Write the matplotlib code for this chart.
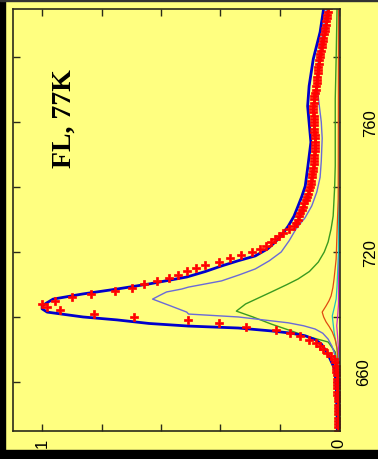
import matplotlib
matplotlib.use('Agg')
import numpy as np
import matplotlib.pyplot as plt
from matplotlib.patches import Rectangle
from matplotlib.transforms import blended_transform_factory

# measured FL spectrum at 77K (red points), 1 nm steps from 665 nm
meas_wl = np.arange(665, 796)
meas_int = [
    0.003, 0.003, 0.003, 0.003, 0.004, 0.004, 0.004, 0.004, 0.005, 0.005,
    0.005, 0.006, 0.006, 0.006, 0.007, 0.007, 0.007, 0.008, 0.009, 0.010,
    0.011, 0.013, 0.018, 0.027, 0.040, 0.055, 0.066, 0.078, 0.100, 0.131,
    0.167, 0.211, 0.312, 0.405, 0.509, 0.690, 0.825, 0.940, 0.985, 1.000,
    0.955, 0.900, 0.835, 0.755, 0.698, 0.658, 0.612, 0.572, 0.542, 0.513,
    0.483, 0.450, 0.405, 0.367, 0.329, 0.293, 0.266, 0.246, 0.230, 0.216,
    0.204, 0.190, 0.170, 0.151, 0.145, 0.140, 0.135, 0.130, 0.125, 0.121,
    0.117, 0.113, 0.109, 0.105, 0.101, 0.097, 0.095, 0.094, 0.092, 0.090,
    0.088, 0.087, 0.086, 0.085, 0.084, 0.083, 0.082, 0.081, 0.081, 0.081,
    0.081, 0.082, 0.083, 0.084, 0.084, 0.085, 0.086, 0.086, 0.087, 0.087,
    0.087, 0.086, 0.085, 0.083, 0.081, 0.079, 0.077, 0.076, 0.075, 0.074,
    0.072, 0.071, 0.070, 0.069, 0.067, 0.065, 0.063, 0.061, 0.059, 0.057,
    0.055, 0.053, 0.051, 0.049, 0.047, 0.045, 0.043, 0.041, 0.040, 0.038,
    0.037,
]

# total fit (thick blue)
fit_wl = [665, 670, 679, 684, 686, 689, 691.7, 693, 694.2, 695, 695.7, 696.6,
          697.2, 698, 699.1, 700, 701.5, 702.5, 703.4, 704.3, 705.5, 707.1,
          708.6, 710.2, 712.3, 714, 715.7, 717.3, 718.8, 721, 723.1, 725, 728,
          731, 734.2, 737, 740.3, 746.5, 753.8, 758.8, 764.9, 771.1, 779.4,
          787.7, 795]
fit_int = [0.006, 0.007, 0.010, 0.015, 0.025, 0.040, 0.060, 0.080, 0.114, 0.160,
           0.228, 0.339, 0.507, 0.640, 0.748, 0.862, 0.983, 1.0, 1.0, 0.985,
           0.963, 0.862, 0.748, 0.638, 0.513, 0.450, 0.396, 0.340, 0.282, 0.240,
           0.215, 0.195, 0.171, 0.152, 0.138, 0.126, 0.114, 0.105, 0.095, 0.100,
           0.106, 0.101, 0.087, 0.064, 0.052]

# components (thin lines)
c1_wl = [665, 684, 688, 691, 693.2, 695, 696.3, 697.3, 698.2, 699.1, 700.0,
         700.9, 701.5, 703.5, 705.5, 706.6, 707.7, 708.6, 709.2, 711.1, 713,
         714.8, 717.3, 720, 723.5, 727.1, 730.5, 734.2, 738.5, 743, 748, 755,
         760, 766, 772, 779.4, 787.7, 795]
c1_int = [0.002, 0.006, 0.013, 0.024, 0.037, 0.055, 0.081, 0.120, 0.171, 0.255,
          0.339, 0.507, 0.513, 0.570, 0.628, 0.605, 0.581, 0.530, 0.507, 0.396,
          0.335, 0.282, 0.235, 0.195, 0.168, 0.145, 0.115, 0.092, 0.075, 0.064,
          0.060, 0.057, 0.060, 0.068, 0.075, 0.070, 0.055, 0.042]

c2_wl = [665, 685, 689.2, 692.3, 694.2, 696, 697.8, 700, 701.8, 704.0, 706,
         707.7, 710, 711.7, 714, 716.9, 720, 723.1, 727.1, 731.1, 740, 746.5,
         767.1, 779.4, 795]
c2_int = [0.002, 0.006, 0.013, 0.037, 0.114, 0.170, 0.228, 0.290, 0.346, 0.315,
          0.268, 0.228, 0.175, 0.138, 0.100, 0.070, 0.050, 0.037, 0.027, 0.020,
          0.015, 0.013, 0.013, 0.010, 0.007]

c3_wl = [665, 685, 690.2, 693, 695.4, 697, 698.5, 700, 701.5, 703.4, 705, 706.5,
         709, 711.7, 717.8, 726.2, 736.3, 795]
c3_int = [0.001, 0.003, 0.007, 0.013, 0.023, 0.033, 0.044, 0.052, 0.057, 0.044,
          0.034, 0.027, 0.021, 0.017, 0.010, 0.007, 0.003, 0.002]

c4_wl = [665, 688, 690.2, 695.4, 700.3, 703, 705.5, 709.5, 720, 795]
c4_int = [0.001, 0.004, 0.007, 0.017, 0.023, 0.016, 0.010, 0.007, 0.002, 0.001]

c5_wl = [665, 690, 694, 697.3, 700, 704, 795]
c5_int = [0.001, 0.002, 0.005, 0.008, 0.005, 0.002, 0.001]

y_ticks = [680, 700, 720, 740, 760, 780]
y_labels = ['', '', '720', '', '760', '']
# the lowest wavelength label sits a little off its tick in the original
low_label = '660'
low_label_pos = 683.4
x_ticks = [0, 0.2, 0.4, 0.6, 0.8, 1.0]
x_labels = ['0', '', '', '', '', '1']

BG = '#FFFF80'
DARK = '#2a2a1a'

fig = plt.figure(figsize=(3.78, 4.60), dpi=100, facecolor=BG)
ax = fig.add_axes([13 / 378, 1 - 432 / 460, 327 / 378, 422 / 460])
ax.set_facecolor(BG)

ax.plot(c5_int, c5_wl, color='#d020d0', lw=0.9)
ax.plot(c4_int, c4_wl, color='#20c0c0', lw=0.9)
ax.plot(c3_int, c3_wl, color='#e04a10', lw=0.9)
ax.plot(c2_int, c2_wl, color='#3a9a20', lw=1.0)
ax.plot(c1_int, c1_wl, color='#6a6ad8', lw=1.0)
ax.plot(fit_int, fit_wl, color='#0000cc', lw=2.0)
ax.plot(meas_int, meas_wl, linestyle='none', marker='P', markersize=5.5,
        color='#ff0000', markeredgecolor='#ff0000', markeredgewidth=0.5)

ax.set_xlim(1.098, -0.003)
ax.set_ylim(664.9, 794.8)

ax.set_xticks(x_ticks)
ax.set_xticklabels(x_labels, rotation=90, fontsize=12, family='Liberation Sans')
ax.tick_params(axis='x', direction='in', length=5, width=1, color=DARK,
               top=True, bottom=True, pad=5)

ax.set_yticks(y_ticks)
ax.set_yticklabels(y_labels, rotation=90, fontsize=12, family='Liberation Sans',
                   va='center')
ax.tick_params(axis='y', direction='in', length=5, width=1, color=DARK,
               left=True, right=True, labelleft=False, labelright=True, pad=17)

trans = blended_transform_factory(ax.transAxes, ax.transData)
ax.text(1.0 + 24 / 327, low_label_pos, low_label, transform=trans, rotation=90,
        fontsize=12, family='Liberation Sans', ha='center', va='center')

for s in ax.spines.values():
    s.set_color(DARK)
    s.set_linewidth(1.2)

ax.text(0.925, 761.5, 'FL, 77K', rotation=90, fontsize=20, fontweight='bold',
        family='Liberation Serif', ha='center', va='center')

# dark frame strips round the slide
fig.add_artist(Rectangle((0, 0), 5 / 378, 1, transform=fig.transFigure,
                         color='black', zorder=10))
fig.add_artist(Rectangle((0, 0), 1, 9 / 460, transform=fig.transFigure,
                         color='black', zorder=10))
fig.add_artist(Rectangle((0, 1 - 1.5 / 460), 1, 1.5 / 460,
                         transform=fig.transFigure, color='#333333', zorder=10))

plt.savefig('out.png', dpi=100, facecolor=BG)
